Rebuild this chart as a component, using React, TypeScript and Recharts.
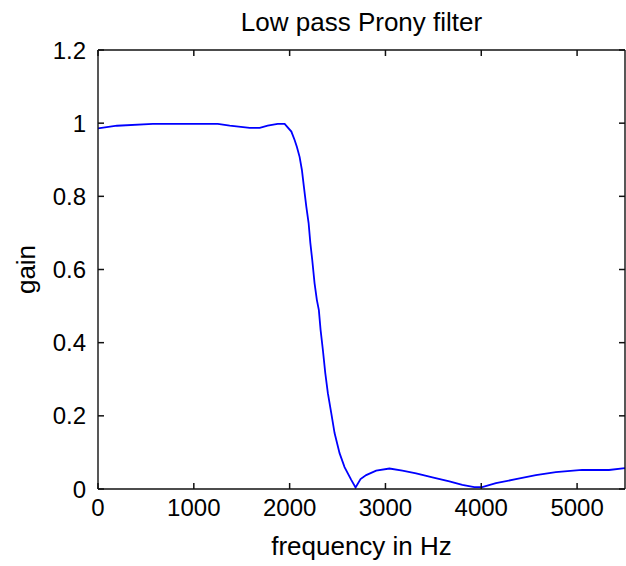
import React from "react";
import { LineChart, Line, XAxis, YAxis } from "recharts";

// frequency (Hz) and gain
const freq = [
  0, 198, 573, 1250, 1375, 1583, 1688, 1771, 1875, 1948, 2018, 2052, 2076,
  2104, 2128, 2149, 2174, 2198, 2216, 2236, 2260, 2284, 2305, 2323, 2347, 2372,
  2399, 2434, 2469, 2521, 2573, 2643, 2688, 2740, 2799, 2903, 3042, 3177, 3320,
  3490, 3667, 3802, 3927, 4010, 4153, 4361, 4570, 4778, 5052, 5333, 5500,
];
const gain = [
  0.986, 0.993, 0.998, 0.998, 0.993, 0.987, 0.987, 0.993, 0.998, 0.998, 0.977,
  0.954, 0.935, 0.908, 0.872, 0.826, 0.772, 0.727, 0.673, 0.626, 0.563, 0.517,
  0.489, 0.435, 0.38, 0.317, 0.262, 0.208, 0.153, 0.098, 0.06, 0.025, 0.004,
  0.027, 0.038, 0.05, 0.056, 0.05, 0.043, 0.032, 0.021, 0.011, 0.005, 0.005,
  0.016, 0.027, 0.038, 0.046, 0.052, 0.052, 0.057,
];
const xTicks = [0, 1000, 2000, 3000, 4000, 5000];
const yTicks = [0, 0.2, 0.4, 0.6, 0.8, 1, 1.2];

const data = freq.map((f, i) => ({ f, g: gain[i] }));

const font = "'Liberation Sans', Arial, sans-serif";
const axisColor = "#111";
const TICK = 6; // inward tick length
const labelStyle = { fill: "#000", fontSize: 26, fontFamily: font };

// matlab style: tick marks point into the plot box.
// recharts does not hand tickMargin to custom ticks, so pass the gap ourselves
const BottomTick = (props: any) => {
  const { x, y, payload, gap } = props;
  const axisY = y - gap;
  return (
    <g>
      <line x1={x} x2={x} y1={axisY} y2={axisY - TICK} stroke={axisColor} strokeWidth={1.5} />
      <text x={x} y={y} dy="0.71em" textAnchor="middle" fontSize={24} fontFamily={font} fill="#000">
        {payload.value}
      </text>
    </g>
  );
};

const LeftTick = (props: any) => {
  const { x, y, payload, gap } = props;
  const axisX = x + gap;
  return (
    <g>
      <line x1={axisX} x2={axisX + TICK} y1={y} y2={y} stroke={axisColor} strokeWidth={1.5} />
      <text x={x} y={y} dy="0.355em" textAnchor="end" fontSize={24} fontFamily={font} fill="#000">
        {payload.value}
      </text>
    </g>
  );
};

const TopTick = (props: any) => {
  const { x, y } = props;
  return <line x1={x} x2={x} y1={y} y2={y + TICK} stroke={axisColor} strokeWidth={1.5} />;
};

const RightTick = (props: any) => {
  const { x, y } = props;
  return <line x1={x} x2={x - TICK} y1={y} y2={y} stroke={axisColor} strokeWidth={1.5} />;
};

export default function App() {
  return (
    <div style={{ position: "absolute", left: 0, top: 0, background: "#fff" }}>
      <LineChart
        width={626}
        height={566}
        data={data}
        margin={{ top: 0, right: 0, bottom: 0, left: 0 }}
      >
        <XAxis
          dataKey="f"
          type="number"
          domain={[0, 5500]}
          ticks={xTicks}
          allowDataOverflow
          height={77}
          stroke={axisColor}
          strokeWidth={1.4}
          tickLine={false}
          tickSize={0}
          tickMargin={10}
          tick={<BottomTick gap={10} />}
          label={{
            value: "frequency in Hz",
            position: "insideBottom",
            offset: 11,
            style: labelStyle,
          }}
        />
        {/* top edge of the box, carries the title */}
        <XAxis
          xAxisId="top"
          orientation="top"
          dataKey="f"
          type="number"
          domain={[0, 5500]}
          ticks={xTicks}
          allowDataOverflow
          height={50}
          stroke={axisColor}
          strokeWidth={1.4}
          tickLine={false}
          tickSize={0}
          tickMargin={0}
          tick={<TopTick />}
          label={{
            value: "Low pass Prony filter",
            position: "center",
            dy: -3,
            style: labelStyle,
          }}
        />
        <YAxis
          type="number"
          domain={[0, 1.2]}
          ticks={yTicks}
          allowDataOverflow
          width={98}
          stroke={axisColor}
          strokeWidth={1.4}
          tickLine={false}
          tickSize={0}
          tickMargin={12}
          tick={<LeftTick gap={12} />}
          label={{
            value: "gain",
            angle: -90,
            position: "center",
            dx: -23,
            style: { ...labelStyle, textAnchor: "middle" },
          }}
        />
        {/* right edge of the box */}
        <YAxis
          yAxisId="right"
          orientation="right"
          type="number"
          domain={[0, 1.2]}
          ticks={yTicks}
          allowDataOverflow
          width={1}
          stroke={axisColor}
          strokeWidth={1.4}
          tickLine={false}
          tickSize={0}
          tickMargin={0}
          tick={<RightTick />}
        />
        <Line
          type="linear"
          dataKey="g"
          stroke="#0000ff"
          strokeWidth={1.8}
          dot={false}
          isAnimationActive={false}
        />
      </LineChart>
    </div>
  );
}
